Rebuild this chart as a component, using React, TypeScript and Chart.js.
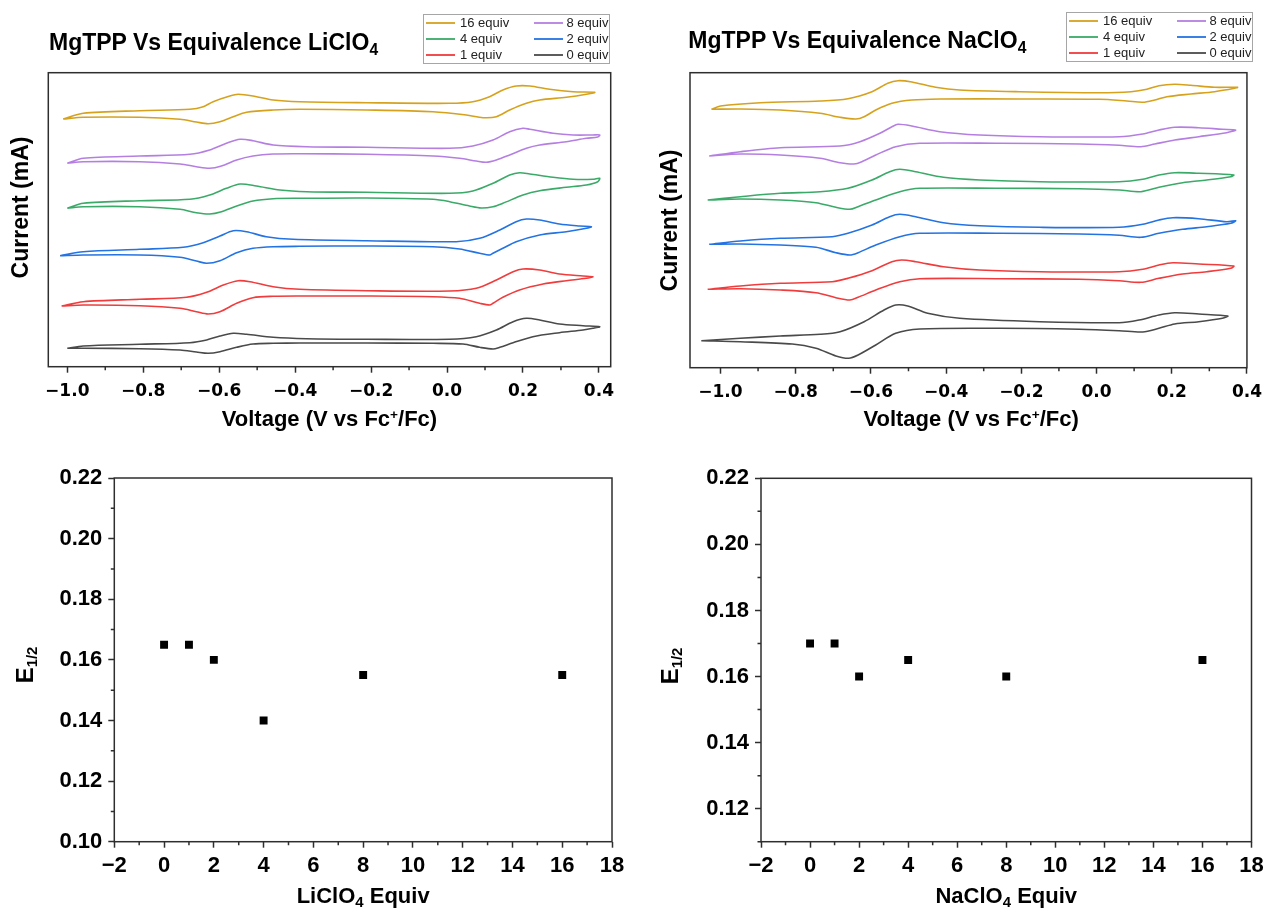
import React, { useEffect, useRef } from 'react';
import { Chart, registerables } from 'chart.js';

Chart.register(...registerables);

const W = 1271;
const H = 910;

// ---------------- CV data (voltage V vs Fc+/Fc, current in arbitrary offset units) ----------------
// LiClO4 panel
const LI_16: [number, number][] = [
  [-1.011, 247.7], [-0.958, 253.4], [-0.809, 256.0], [-0.677, 257.4], [-0.642, 260.0], [-0.616, 265.0], [-0.572, 270.7], [-0.55, 272.4], [-0.511, 270.7], [-0.458, 266.7], [-0.388, 265.0], [-0.212, 264.0], [0.007, 263.4], [0.068, 265.0], [0.112, 270.0], [0.147, 276.7], [0.182, 280.7], [0.218, 280.7], [0.27, 277.4], [0.332, 275.0], [0.389, 274.4],
  [0.367, 272.4], [0.314, 269.4], [0.244, 266.7], [0.209, 263.4], [0.165, 256.7], [0.13, 250.0], [0.095, 249.0], [0.051, 251.7], [-0.037, 255.0], [-0.212, 256.7], [-0.388, 257.4], [-0.458, 256.7], [-0.528, 254.4], [-0.563, 250.0], [-0.598, 245.0], [-0.629, 243.0], [-0.66, 244.7], [-0.703, 247.4], [-0.809, 249.4], [-0.958, 249.4], [-1.011, 247.7],
];
const LI_8: [number, number][] = [
  [-1.0, 203.4], [-0.958, 208.4], [-0.809, 210.7], [-0.677, 212.4], [-0.625, 216.7], [-0.581, 223.4], [-0.545, 227.4], [-0.511, 226.0], [-0.458, 221.7], [-0.37, 220.0], [-0.212, 219.4], [0.007, 218.4], [0.068, 220.7], [0.121, 226.7], [0.165, 235.0], [0.2, 238.4], [0.218, 237.4], [0.279, 233.4], [0.332, 231.7], [0.384, 231.7], [0.402, 231.7],
  [0.397, 229.7], [0.367, 228.4], [0.314, 225.0], [0.244, 221.7], [0.209, 218.4], [0.165, 211.7], [0.13, 206.7], [0.103, 204.4], [0.077, 205.7], [0.033, 208.4], [-0.037, 210.7], [-0.212, 212.4], [-0.388, 213.0], [-0.458, 212.7], [-0.511, 210.7], [-0.554, 206.7], [-0.594, 200.7], [-0.625, 198.4], [-0.66, 200.0], [-0.703, 202.7], [-0.809, 205.0], [-0.958, 205.0], [-1.0, 203.4],
];
const LI_4: [number, number][] = [
  [-1.0, 158.4], [-0.958, 163.4], [-0.809, 166.0], [-0.677, 167.4], [-0.625, 171.7], [-0.581, 178.4], [-0.545, 182.7], [-0.502, 180.7], [-0.44, 176.7], [-0.37, 175.0], [-0.212, 174.4], [0.007, 173.4], [0.068, 175.7], [0.121, 183.4], [0.165, 191.7], [0.191, 194.0], [0.218, 192.7], [0.279, 189.4], [0.332, 187.4], [0.384, 187.4], [0.402, 188.4],
  [0.397, 185.0], [0.367, 181.7], [0.314, 179.4], [0.244, 176.0], [0.2, 171.7], [0.147, 163.4], [0.121, 160.0], [0.09, 158.7], [0.059, 160.7], [0.007, 165.0], [-0.037, 167.4], [-0.212, 168.7], [-0.388, 168.4], [-0.458, 168.0], [-0.511, 165.7], [-0.554, 160.7], [-0.594, 155.0], [-0.625, 152.7], [-0.66, 154.0], [-0.703, 157.4], [-0.809, 160.0], [-0.958, 160.0], [-1.0, 158.4],
];
const LI_2: [number, number][] = [
  [-1.019, 111.0], [-0.958, 115.0], [-0.809, 117.4], [-0.695, 119.4], [-0.642, 124.0], [-0.598, 130.7], [-0.563, 136.0], [-0.528, 135.0], [-0.476, 130.0], [-0.405, 127.4], [-0.212, 126.0], [0.024, 125.0], [0.086, 128.4], [0.139, 136.7], [0.182, 145.0], [0.209, 147.7], [0.244, 146.7], [0.296, 142.7], [0.349, 140.7], [0.38, 140.0],
  [0.367, 138.4], [0.314, 135.0], [0.244, 131.7], [0.182, 125.0], [0.147, 118.4], [0.121, 113.4], [0.112, 111.7], [0.086, 113.4], [0.033, 117.7], [-0.037, 120.0], [-0.212, 120.7], [-0.388, 120.4], [-0.458, 120.0], [-0.511, 118.4], [-0.554, 114.0], [-0.598, 106.0], [-0.633, 103.4], [-0.66, 105.7], [-0.703, 109.4], [-0.809, 111.7], [-0.958, 111.7], [-1.019, 111.0],
];
const LI_1: [number, number][] = [
  [-1.015, 60.7], [-0.958, 65.0], [-0.809, 67.4], [-0.686, 69.4], [-0.633, 74.4], [-0.589, 81.7], [-0.55, 86.0], [-0.519, 85.0], [-0.458, 80.0], [-0.388, 77.4], [-0.212, 76.0], [0.007, 75.7], [0.077, 78.4], [0.13, 86.7], [0.174, 95.0], [0.2, 97.7], [0.244, 96.7], [0.296, 92.7], [0.358, 90.7], [0.384, 90.0],
  [0.367, 88.4], [0.314, 86.0], [0.253, 82.7], [0.191, 76.7], [0.147, 69.4], [0.121, 63.4], [0.112, 61.7], [0.086, 63.4], [0.033, 68.4], [-0.037, 70.0], [-0.212, 70.7], [-0.388, 70.7], [-0.458, 70.4], [-0.511, 69.0], [-0.554, 63.4], [-0.598, 55.0], [-0.629, 52.7], [-0.66, 55.0], [-0.703, 58.4], [-0.809, 61.0], [-0.958, 61.7], [-1.015, 60.7],
];
const LI_0: [number, number][] = [
  [-1.0, 18.4], [-0.958, 20.7], [-0.809, 22.4], [-0.677, 24.0], [-0.633, 26.7], [-0.598, 30.7], [-0.563, 33.4], [-0.528, 32.4], [-0.458, 29.4], [-0.37, 28.0], [-0.212, 27.4], [0.007, 27.4], [0.077, 30.0], [0.13, 36.7], [0.174, 45.0], [0.209, 48.4], [0.244, 46.7], [0.296, 42.7], [0.358, 41.0], [0.402, 40.0],
  [0.384, 38.4], [0.358, 36.7], [0.296, 34.0], [0.226, 30.0], [0.174, 24.0], [0.139, 19.4], [0.121, 17.7], [0.086, 19.4], [0.042, 22.7], [-0.037, 23.4], [-0.212, 23.7], [-0.388, 23.7], [-0.458, 23.4], [-0.511, 22.7], [-0.554, 19.4], [-0.598, 15.0], [-0.629, 13.4], [-0.66, 14.7], [-0.703, 16.7], [-0.809, 18.0], [-0.958, 18.4], [-1.0, 18.4],
];

// NaClO4 panel
const NA_16: [number, number][] = [
  [-1.024, 258.4], [-1.0, 261.7], [-0.894, 265.0], [-0.735, 266.7], [-0.661, 269.0], [-0.597, 276.0], [-0.555, 284.4], [-0.528, 287.0], [-0.491, 285.7], [-0.428, 280.4], [-0.364, 277.7], [-0.205, 276.0], [0.007, 275.0], [0.092, 276.0], [0.134, 278.4], [0.166, 282.0], [0.208, 283.4], [0.251, 282.4], [0.314, 280.4], [0.375, 280.4],
  [0.367, 279.4], [0.314, 276.0], [0.251, 273.7], [0.187, 271.0], [0.155, 267.7], [0.123, 265.4], [0.081, 266.7], [0.007, 268.4], [-0.205, 268.7], [-0.417, 268.7], [-0.491, 267.7], [-0.544, 264.4], [-0.587, 257.7], [-0.618, 251.0], [-0.64, 248.7], [-0.682, 250.4], [-0.735, 254.4], [-0.841, 257.7], [-0.947, 258.7], [-1.024, 258.4],
];
const NA_8: [number, number][] = [
  [-1.03, 211.7], [-0.947, 216.0], [-0.841, 220.0], [-0.682, 221.7], [-0.629, 226.0], [-0.576, 234.4], [-0.544, 241.0], [-0.528, 243.4], [-0.491, 241.7], [-0.417, 236.0], [-0.311, 232.7], [-0.152, 231.0], [0.06, 231.0], [0.123, 233.7], [0.166, 237.7], [0.208, 240.4], [0.272, 240.0], [0.335, 238.4], [0.37, 237.7],
  [0.346, 235.0], [0.272, 231.0], [0.208, 227.7], [0.155, 223.7], [0.118, 221.0], [0.06, 222.4], [-0.046, 223.7], [-0.258, 224.4], [-0.47, 224.4], [-0.534, 221.0], [-0.587, 212.7], [-0.624, 206.0], [-0.645, 203.7], [-0.682, 205.0], [-0.735, 209.4], [-0.841, 212.7], [-0.947, 213.7], [-1.03, 211.7],
];
const NA_4: [number, number][] = [
  [-1.034, 167.7], [-0.947, 171.0], [-0.841, 174.4], [-0.735, 176.0], [-0.661, 179.4], [-0.597, 187.7], [-0.55, 196.0], [-0.523, 198.4], [-0.481, 196.0], [-0.407, 190.4], [-0.311, 187.7], [-0.152, 186.0], [0.06, 186.0], [0.123, 188.4], [0.166, 192.7], [0.208, 195.0], [0.272, 194.4], [0.365, 192.7],
  [0.357, 191.0], [0.293, 187.7], [0.229, 185.0], [0.166, 180.4], [0.118, 176.0], [0.06, 177.7], [-0.046, 179.0], [-0.258, 179.4], [-0.47, 179.4], [-0.523, 176.0], [-0.587, 167.7], [-0.634, 161.0], [-0.656, 158.4], [-0.693, 160.4], [-0.746, 165.0], [-0.841, 167.7], [-0.947, 168.7], [-1.034, 167.7],
];
const NA_2: [number, number][] = [
  [-1.03, 123.4], [-0.947, 126.7], [-0.841, 129.4], [-0.703, 131.0], [-0.661, 134.4], [-0.597, 142.7], [-0.55, 151.0], [-0.523, 153.4], [-0.481, 151.0], [-0.407, 145.0], [-0.311, 142.0], [-0.152, 140.4], [0.06, 140.4], [0.123, 143.4], [0.166, 147.7], [0.203, 150.0], [0.272, 149.0], [0.346, 146.0], [0.37, 147.0],
  [0.357, 144.4], [0.293, 141.0], [0.229, 138.4], [0.166, 134.4], [0.118, 130.4], [0.06, 132.4], [-0.046, 133.7], [-0.258, 134.4], [-0.47, 134.4], [-0.523, 131.0], [-0.587, 122.7], [-0.634, 115.0], [-0.656, 112.7], [-0.693, 115.0], [-0.746, 120.4], [-0.841, 122.7], [-0.947, 123.7], [-1.03, 123.4],
];
const NA_1: [number, number][] = [
  [-1.034, 78.4], [-0.947, 81.7], [-0.841, 84.4], [-0.703, 86.0], [-0.661, 89.4], [-0.597, 97.0], [-0.544, 106.0], [-0.518, 107.7], [-0.481, 106.0], [-0.407, 101.0], [-0.311, 97.7], [-0.152, 96.0], [0.06, 96.0], [0.123, 98.4], [0.166, 102.7], [0.203, 105.0], [0.272, 103.7], [0.365, 101.7],
  [0.357, 99.4], [0.293, 96.0], [0.229, 93.7], [0.166, 89.4], [0.118, 85.4], [0.06, 87.0], [-0.046, 88.4], [-0.258, 89.0], [-0.47, 89.0], [-0.523, 86.0], [-0.587, 77.7], [-0.634, 70.4], [-0.656, 67.7], [-0.693, 70.0], [-0.746, 75.0], [-0.841, 77.7], [-0.947, 79.0], [-1.034, 78.4],
];
const NA_0: [number, number][] = [
  [-1.051, 27.0], [-0.947, 29.4], [-0.841, 31.7], [-0.735, 33.4], [-0.682, 36.0], [-0.618, 46.0], [-0.565, 57.7], [-0.534, 62.7], [-0.502, 61.7], [-0.449, 54.4], [-0.364, 49.4], [-0.152, 46.0], [0.06, 45.0], [0.113, 47.7], [0.166, 52.7], [0.208, 55.0], [0.272, 53.7], [0.349, 51.7],
  [0.335, 49.4], [0.272, 46.0], [0.208, 43.7], [0.166, 39.4], [0.123, 35.7], [0.06, 37.0], [-0.046, 38.4], [-0.258, 39.4], [-0.47, 38.7], [-0.534, 34.4], [-0.587, 22.7], [-0.634, 12.7], [-0.659, 9.4], [-0.693, 11.7], [-0.746, 19.4], [-0.809, 23.7], [-0.947, 26.0], [-1.051, 27.0],
];

// ---------------- E1/2 data ----------------
const LI_EQUIV = [0, 1, 2, 4, 8, 16];
const LI_E12 = [0.165, 0.165, 0.16, 0.14, 0.155, 0.155];
const NA_EQUIV = [0, 1, 2, 4, 8, 16];
const NA_E12 = [0.17, 0.17, 0.16, 0.165, 0.16, 0.165];

// ---------------- labels / ticks ----------------
const SERIES_LABELS = ['16 equiv', '8 equiv', '4 equiv', '2 equiv', '1 equiv', '0 equiv'];
const SERIES_COLORS = ['#D6A21E', '#B57FE2', '#3BAA68', '#2473E2', '#F03C3C', '#4A4A4A'];
const LI_SERIES = [LI_16, LI_8, LI_4, LI_2, LI_1, LI_0];
const NA_SERIES = [NA_16, NA_8, NA_4, NA_2, NA_1, NA_0];

const CV_TICKS = [-1.0, -0.8, -0.6, -0.4, -0.2, 0.0, 0.2, 0.4];
const CV_MINOR = [-0.9, -0.7, -0.5, -0.3, -0.1, 0.1, 0.3];
const EQ_TICKS = [-2, 0, 2, 4, 6, 8, 10, 12, 14, 16, 18];
const EQ_MINOR = [-1, 1, 3, 5, 7, 9, 11, 13, 15, 17];
const LI_E_TICKS = [0.1, 0.12, 0.14, 0.16, 0.18, 0.2, 0.22];
const NA_E_TICKS = [0.12, 0.14, 0.16, 0.18, 0.2, 0.22];
const E_MINOR = [0.11, 0.13, 0.15, 0.17, 0.19, 0.21];

const FONT = '"Liberation Sans", Arial, sans-serif';
const AXIS_COLOR = '#2e2e2e';

type Area = { l: number; t: number; r: number; b: number };
const TL: Area = { l: 48.3, t: 72.7, r: 610.7, b: 366.7 };
const TR: Area = { l: 690, t: 72.7, r: 1252.3, b: 367.7 };
const BL: Area = { l: 114.3, t: 478, r: 612, b: 841.7 };
const BR: Area = { l: 761, t: 478.3, r: 1251.5, b: 841.7 };

const XAXIS_H = 40;
const YAXIS_W = 60;

const minus = (s: string) => s.replace('-', '\u2212');

const framePlugin = {
  id: 'frame',
  afterDatasetsDraw(chart: any, _args: any, opts: any) {
    const { ctx, chartArea: a, scales } = chart;
    ctx.save();
    ctx.strokeStyle = AXIS_COLOR;
    ctx.lineWidth = 1.5;
    ctx.strokeRect(a.left, a.top, a.right - a.left, a.bottom - a.top);
    ctx.beginPath();
    for (const v of opts.minorX || []) {
      const px = scales.x.getPixelForValue(v);
      ctx.moveTo(px, a.bottom);
      ctx.lineTo(px, a.bottom + 3.5);
    }
    for (const v of opts.minorY || []) {
      const py = scales.y.getPixelForValue(v);
      ctx.moveTo(a.left, py);
      ctx.lineTo(a.left - 3.5, py);
    }
    ctx.stroke();
    ctx.restore();
  },
};

function cvConfig(series: [number, number][][], area: Area, xMin: number, xMax: number, yMax: number): any {
  return {
    type: 'scatter',
    data: {
      datasets: series.map((s, i) => ({
        label: SERIES_LABELS[i],
        data: s.map(([x, y]) => ({ x, y })),
        showLine: true,
        borderColor: SERIES_COLORS[i],
        backgroundColor: SERIES_COLORS[i],
        borderWidth: 1.6,
        pointRadius: 0,
        tension: 0.3,
        fill: false,
      })),
    },
    options: {
      animation: false,
      responsive: false,
      events: [],
      layout: { padding: { left: area.l, top: area.t, right: W - area.r, bottom: H - area.b - XAXIS_H } },
      plugins: { legend: { display: false }, tooltip: { enabled: false }, frame: { minorX: CV_MINOR } },
      scales: {
        x: {
          type: 'linear',
          min: xMin,
          max: xMax,
          afterBuildTicks: (s: any) => { s.ticks = CV_TICKS.map((v) => ({ value: v })); },
          afterFit: (s: any) => { s.height = XAXIS_H; },
          grid: { drawOnChartArea: false, tickLength: 6, tickColor: AXIS_COLOR, tickWidth: 1.5 },
          border: { display: false },
          ticks: {
            autoSkip: false,
            maxRotation: 0,
            padding: 9,
            color: '#000',
            font: { family: '"DejaVu Sans", sans-serif', weight: 'bold', size: 17 },
            callback: (v: number) => minus(Number(v).toFixed(1)),
          },
        },
        y: { display: false, min: 0, max: yMax },
      },
    },
    plugins: [framePlugin],
  };
}

function eConfig(xs: number[], ys: number[], area: Area, yMin: number, yTicks: number[]): any {
  return {
    type: 'scatter',
    data: {
      datasets: [{
        label: 'E1/2',
        data: xs.map((x, i) => ({ x, y: ys[i] })),
        pointStyle: 'rect',
        pointRadius: 5.6,
        borderWidth: 0,
        backgroundColor: '#000',
        borderColor: '#000',
      }],
    },
    options: {
      animation: false,
      responsive: false,
      events: [],
      layout: { padding: { left: area.l - YAXIS_W, top: area.t, right: W - area.r, bottom: H - area.b - XAXIS_H } },
      plugins: { legend: { display: false }, tooltip: { enabled: false }, frame: { minorX: EQ_MINOR, minorY: E_MINOR } },
      scales: {
        x: {
          type: 'linear',
          min: -2,
          max: 18,
          afterBuildTicks: (s: any) => { s.ticks = EQ_TICKS.map((v) => ({ value: v })); },
          afterFit: (s: any) => { s.height = XAXIS_H; },
          grid: { drawOnChartArea: false, tickLength: 6, tickColor: AXIS_COLOR, tickWidth: 1.5 },
          border: { display: false },
          ticks: {
            autoSkip: false,
            maxRotation: 0,
            padding: 5,
            color: '#000',
            font: { family: FONT, weight: 'bold', size: 22 },
            callback: (v: number) => minus(String(Math.round(Number(v)))),
          },
        },
        y: {
          type: 'linear',
          min: yMin,
          max: 0.22,
          afterBuildTicks: (s: any) => { s.ticks = yTicks.map((v) => ({ value: v })); },
          afterFit: (s: any) => { s.width = YAXIS_W; },
          grid: { drawOnChartArea: false, tickLength: 6, tickColor: AXIS_COLOR, tickWidth: 1.5 },
          border: { display: false },
          ticks: {
            autoSkip: false,
            padding: 6,
            color: '#000',
            font: { family: FONT, weight: 'bold', size: 22 },
            callback: (v: number) => Number(v).toFixed(2),
          },
        },
      },
    },
    plugins: [framePlugin],
  };
}

function ChartCanvas({ config }: { config: any }) {
  const ref = useRef<HTMLCanvasElement>(null);
  useEffect(() => {
    const chart = new Chart(ref.current as HTMLCanvasElement, config);
    return () => chart.destroy();
  }, []);
  return (
    <canvas
      ref={ref}
      width={W}
      height={H}
      style={{ position: 'absolute', left: 0, top: 0, width: W, height: H }}
    />
  );
}

const BOLD: React.CSSProperties = { position: 'absolute', fontFamily: FONT, fontWeight: 700, color: '#000', whiteSpace: 'nowrap' };
const SUB: React.CSSProperties = { fontSize: '0.68em', verticalAlign: '-0.3em', lineHeight: 0 };
const SUP: React.CSSProperties = { fontSize: '0.62em', verticalAlign: '0.55em', lineHeight: 0 };

function Legend({ left, top }: { left: number; top: number }) {
  const rows = [[0, 1], [2, 3], [4, 5]];
  const rowY = [8, 24, 40];
  const cols = [{ l0: 2, l1: 31, t: 36 }, { l0: 110, l1: 139, t: 142.5 }];
  return (
    <div style={{ position: 'absolute', left, top, width: 187, height: 50, border: '1px solid #a6a6a6', boxSizing: 'border-box', background: '#fff' }}>
      {rows.map((r, ri) =>
        r.map((si, ci) => (
          <React.Fragment key={si}>
            <div style={{ position: 'absolute', left: cols[ci].l0, width: cols[ci].l1 - cols[ci].l0, top: rowY[ri] - 1, height: 2, background: SERIES_COLORS[si], opacity: 0.9 }} />
            <div style={{ position: 'absolute', left: cols[ci].t, top: rowY[ri] - 8, height: 16, lineHeight: '16px', fontSize: 13, fontFamily: FONT, color: '#222', whiteSpace: 'nowrap' }}>
              {SERIES_LABELS[si]}
            </div>
          </React.Fragment>
        ))
      )}
    </div>
  );
}

function Rotated({ cx, cy, fs, children }: { cx: number; cy: number; fs: number; children: React.ReactNode }) {
  return (
    <div style={{ ...BOLD, left: cx - 150, top: cy - fs / 2, width: 300, height: fs, lineHeight: fs + 'px', fontSize: fs, textAlign: 'center', transform: 'rotate(-90deg)', transformOrigin: '50% 50%' }}>
      {children}
    </div>
  );
}

export default function App() {
  return (
    <div style={{ position: 'absolute', left: 0, top: 0, width: W, height: H, overflow: 'hidden', background: '#fff' }}>
      <ChartCanvas config={cvConfig(LI_SERIES, TL, -1.05, 0.431, 294)} />
      <ChartCanvas config={cvConfig(NA_SERIES, TR, -1.081, 0.4, 295)} />
      <ChartCanvas config={eConfig(LI_EQUIV, LI_E12, BL, 0.1, LI_E_TICKS)} />
      <ChartCanvas config={eConfig(NA_EQUIV, NA_E12, BR, 0.11, NA_E_TICKS)} />

      {/* titles */}
      <div style={{ ...BOLD, left: 49, top: 30.5, fontSize: 23, lineHeight: '23px' }}>
        MgTPP Vs Equivalence LiClO<span style={SUB}>4</span>
      </div>
      <div style={{ ...BOLD, left: 688.3, top: 29, fontSize: 23, lineHeight: '23px' }}>
        MgTPP Vs Equivalence NaClO<span style={SUB}>4</span>
      </div>

      <Legend left={423} top={14} />
      <Legend left={1066} top={12} />

      {/* x axis titles */}
      <div style={{ ...BOLD, left: TL.l, width: TL.r - TL.l, top: 408.4, fontSize: 22, lineHeight: '22px', textAlign: 'center' }}>
        Voltage (V vs Fc<span style={SUP}>+</span>/Fc)
      </div>
      <div style={{ ...BOLD, left: TR.l, width: TR.r - TR.l, top: 408.4, fontSize: 22, lineHeight: '22px', textAlign: 'center' }}>
        Voltage (V vs Fc<span style={SUP}>+</span>/Fc)
      </div>
      <div style={{ ...BOLD, left: BL.l, width: BL.r - BL.l, top: 885, fontSize: 22, lineHeight: '22px', textAlign: 'center' }}>
        LiClO<span style={SUB}>4</span> Equiv
      </div>
      <div style={{ ...BOLD, left: BR.l, width: BR.r - BR.l, top: 885, fontSize: 22, lineHeight: '22px', textAlign: 'center' }}>
        NaClO<span style={SUB}>4</span> Equiv
      </div>

      {/* y axis titles */}
      <Rotated cx={20} cy={207.5} fs={23}>Current (mA)</Rotated>
      <Rotated cx={668.5} cy={220.5} fs={23}>Current (mA)</Rotated>
      <Rotated cx={25} cy={665} fs={24}>
        E<span style={{ fontSize: '0.62em', verticalAlign: '-0.3em', lineHeight: 0 }}>1/2</span>
      </Rotated>
      <Rotated cx={670} cy={666} fs={24}>
        E<span style={{ fontSize: '0.62em', verticalAlign: '-0.3em', lineHeight: 0 }}>1/2</span>
      </Rotated>
    </div>
  );
}
